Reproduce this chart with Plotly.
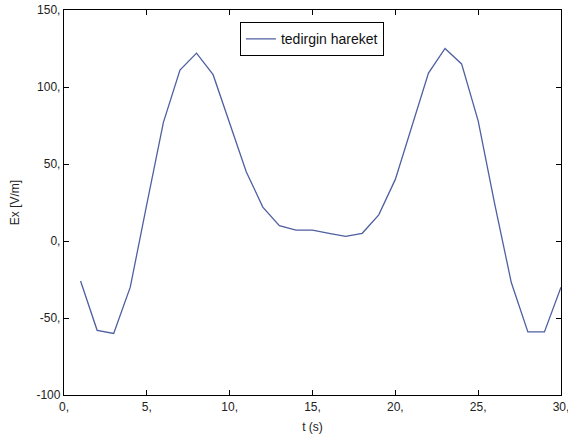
import plotly.graph_objects as go

t_values = list(range(1, 31))
ex_values = [-26, -58, -60, -30, 24, 77, 111, 122, 108, 77,
             45, 22, 10, 7, 7, 5, 3, 5, 17, 40,
             75, 109, 125, 115, 78, 24, -27, -59, -59, -30]
series_name = "tedirgin hareket"

x_tickvals = [0, 5, 10, 15, 20, 25, 30]
x_ticktext = ["0,", "5,", "10,", "15,", "20,", "25,", "30,"]
y_tickvals = [-100, -50, 0, 50, 100, 150]
y_ticktext = ["-100", "-50,", "0,", "50,", "100,", "150,"]

fig = go.Figure()
fig.add_trace(go.Scatter(x=t_values, y=ex_values, mode="lines", name=series_name,
                         line=dict(color="#4f5fa0", width=1.3)))

axis_common = dict(showline=True, linecolor="black", linewidth=1.3, mirror="ticks",
                   ticks="inside", ticklen=5, tickcolor="black", tickwidth=1.2,
                   showgrid=False, zeroline=False, ticklabeloverflow="allow",
                   automargin=False,
                   tickfont=dict(family="Liberation Sans, Arial", size=12, color="#222"))

fig.update_layout(
    width=568, height=440,
    margin=dict(l=64, r=7, t=10, b=45),
    paper_bgcolor="white", plot_bgcolor="white",
    font=dict(family="Liberation Sans, Arial", size=12, color="#222"),
    showlegend=True,
    legend=dict(x=0.354, y=0.968, xanchor="left", yanchor="top",
                bordercolor="black", borderwidth=1, bgcolor="white",
                font=dict(size=14, color="#111"), tracegroupgap=0),
    xaxis=dict(range=[0, 30], tickvals=x_tickvals, ticktext=x_ticktext,
               title=dict(text="t (s)", standoff=10, font=dict(size=12)), **axis_common),
    yaxis=dict(range=[-100, 150], tickvals=y_tickvals, ticktext=y_ticktext,
               title=dict(text="Ex [V/m]", standoff=14, font=dict(size=12)), **axis_common),
)

fig.write_html("out.html")
